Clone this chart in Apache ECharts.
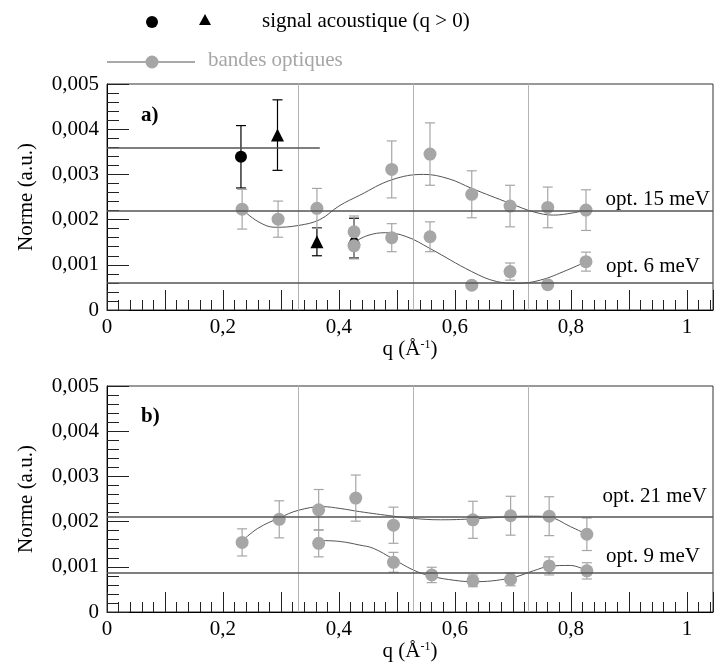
<!DOCTYPE html>
<html><head><meta charset="utf-8">
<script src="https://cdn.jsdelivr.net/npm/echarts@6/dist/echarts.min.js"></script>
<style>html,body{margin:0;padding:0;background:#fff}#c{width:717px;height:664px}</style>
</head><body><div id="c"></div>
<script>
// ---------- data ----------
// panel a) optical band 15 meV
const qA15 = [0.233, 0.295, 0.362, 0.426, 0.491, 0.557, 0.629, 0.695, 0.760, 0.826];
const vA15 = [0.00223, 0.00201, 0.00225, 0.00173, 0.00311, 0.00345, 0.00256, 0.00230, 0.00227, 0.00221];
const eA15 = [0.00044, 0.00040, 0.00044, 0.00035, 0.00063, 0.00069, 0.00052, 0.00046, 0.00045, 0.00045];
// panel a) optical band 6 meV
const qA6 = [0.426, 0.491, 0.557, 0.629, 0.695, 0.760, 0.826];
const vA6 = [0.00142, 0.00160, 0.00162, 0.00055, 0.00085, 0.00056, 0.00107];
const eA6 = [0.00029, 0.00031, 0.00033, 0.00005, 0.00019, 0.00005, 0.00021];
// panel a) acoustic signal
const qAcCirc = [0.231];
const vAcCirc = [0.00339];
const eAcCirc = [0.00069];
const qAcTri = [0.294, 0.362, 0.426];
const vAcTri = [0.00387, 0.00151, 0.00159];
const eAcTri = [0.00078, 0.00031, 0.00044];
// panel a) fit curves
const qFitA15 = [0.233, 0.26, 0.29, 0.33, 0.367, 0.40, 0.436, 0.491, 0.546, 0.59, 0.629, 0.695, 0.736, 0.77, 0.804, 0.826];
const vFitA15 = [0.00223, 0.00196, 0.00183, 0.00187, 0.0020, 0.0023, 0.00254, 0.00288, 0.0030, 0.0029, 0.00269, 0.00236, 0.00217, 0.0021, 0.00215, 0.00221];
const qFitA6 = [0.426, 0.45, 0.48, 0.517, 0.557, 0.629, 0.672, 0.707, 0.747, 0.793, 0.826];
const vFitA6 = [0.0015, 0.00165, 0.00171, 0.00162, 0.00136, 0.00085, 0.00063, 0.00059, 0.00066, 0.00088, 0.00107];
// panel a) reference levels
const levelA15 = 0.00219, levelA6 = 0.0006, levelAc = 0.00359, acEnd = 0.367;

// panel b) optical band 21 meV
const qB21 = [0.233, 0.297, 0.365, 0.429, 0.494, 0.631, 0.696, 0.7625, 0.8275];
const vB21 = [0.00154, 0.00205, 0.00226, 0.00252, 0.00192, 0.00204, 0.00213, 0.00212, 0.00172];
const eB21 = [0.00030, 0.00041, 0.00045, 0.00051, 0.00040, 0.00041, 0.00043, 0.00043, 0.00036];
// panel b) optical band 9 meV
const qB9 = [0.365, 0.494, 0.560, 0.631, 0.696, 0.7625, 0.8275];
const vB9 = [0.00152, 0.00110, 0.00082, 0.00069, 0.00072, 0.00102, 0.00091];
const eB9 = [0.00030, 0.00022, 0.00017, 0.00013, 0.00014, 0.00020, 0.00018];
// panel b) fit curves
const qFitB21 = [0.233, 0.26, 0.297, 0.33, 0.372, 0.402, 0.436, 0.494, 0.528, 0.575, 0.631, 0.696, 0.735, 0.7625, 0.799, 0.8275];
const vFitB21 = [0.00157, 0.00185, 0.00208, 0.00225, 0.00233, 0.00229, 0.00222, 0.00212, 0.00207, 0.00204, 0.00206, 0.00211, 0.00212, 0.0021, 0.00189, 0.00172];
const qFitB9 = [0.370, 0.402, 0.436, 0.459, 0.494, 0.528, 0.56, 0.60, 0.631, 0.696, 0.735, 0.7625, 0.799, 0.8275];
const vFitB9 = [0.00158, 0.00156, 0.00148, 0.00141, 0.00117, 0.00093, 0.00079, 0.0007, 0.00067, 0.00075, 0.00091, 0.00101, 0.00103, 0.00091];
const levelB21 = 0.00211, levelB9 = 0.00087;

// vertical guide lines (both panels)
const qGuides = [0.33, 0.528, 0.727];

// axis ticks / labels
const xMin = 0, xMax = 1.045, xInterval = 0.1;
const yMin = 0, yMax = 0.005, yInterval = 0.001;
const labels = { a: 'a)', b: 'b)', l15: 'opt. 15 meV', l6: 'opt. 6 meV', l21: 'opt. 21 meV', l9: 'opt. 9 meV',
  acoustic: 'signal acoustique (q > 0)', optical: 'bandes optiques', yName: 'Norme (a.u.)' };

// ---------- styling ----------
const FONT = 'Liberation Serif';
const FS = 21;
const GRAY = '#a6a6a6';
const LINE = '#555';

const chart = echarts.init(document.getElementById('c'), null, { renderer: 'canvas' });

function zip(q, v) { return q.map((x, i) => [x, v[i]]); }

function xAxis(gi) {
  return {
    type: 'value', gridIndex: gi, min: xMin, max: xMax, interval: xInterval,
    axisLine: { show: true, onZero: false, lineStyle: { color: '#000', width: 1 } },
    axisTick: { show: true, inside: true, length: 20, lineStyle: { color: '#222' } },
    minorTick: { show: true, splitNumber: 5, length: 10, lineStyle: { color: '#222' } },
    splitLine: { show: false }, minorSplitLine: { show: false },
    axisLabel: {
      margin: 7, fontFamily: FONT, fontSize: FS, color: '#000', showMaxLabel: true, hideOverlap: false,
      formatter: v => {
        const k = Math.round(v * 10);
        if (Math.abs(v * 10 - k) > 1e-6 || k % 2 !== 0 || k > 10) return '';
        return String(k / 10).replace('.', ',');
      }
    },
    name: '{a|q (Å}{s|-1}{a|)}', nameLocation: 'middle', nameGap: 23,
    nameTextStyle: { rich: {
      a: { fontFamily: FONT, fontSize: FS, color: '#000' },
      s: { fontFamily: FONT, fontSize: 12, color: '#000', padding: [0, 0, 9, 0] }
    } }
  };
}
function yAxis(gi) {
  return {
    type: 'value', gridIndex: gi, min: yMin, max: yMax, interval: yInterval,
    axisLine: { show: true, onZero: false, lineStyle: { color: '#000', width: 1 } },
    axisTick: { show: true, inside: true, length: 22, lineStyle: { color: '#222' } },
    minorTick: { show: true, splitNumber: 5, length: 12, lineStyle: { color: '#222' } },
    splitLine: { show: false }, minorSplitLine: { show: false },
    axisLabel: {
      margin: 8, fontFamily: FONT, fontSize: FS, color: '#000', showMaxLabel: true, showMinLabel: true,
      formatter: v => v === 0 ? '0' : v.toFixed(3).replace('.', ',')
    },
    name: labels.yName, nameLocation: 'middle', nameGap: 70, nameRotate: 90,
    nameTextStyle: { fontFamily: FONT, fontSize: FS, color: '#000' }
  };
}

function errBars(ai, q, v, e, color) {
  return {
    type: 'custom', xAxisIndex: ai, yAxisIndex: ai, silent: true, z: 2,
    data: q.map((x, i) => [x, v[i] - e[i], v[i] + e[i]]),
    renderItem(params, api) {
      const x = api.value(0);
      const lo = api.coord([x, api.value(1)]);
      const hi = api.coord([x, api.value(2)]);
      const w = 5;
      const st = { stroke: color, lineWidth: 1.2 };
      return { type: 'group', children: [
        { type: 'line', shape: { x1: lo[0], y1: lo[1], x2: hi[0], y2: hi[1] }, style: st },
        { type: 'line', shape: { x1: lo[0] - w, y1: lo[1], x2: lo[0] + w, y2: lo[1] }, style: st },
        { type: 'line', shape: { x1: hi[0] - w, y1: hi[1], x2: hi[0] + w, y2: hi[1] }, style: st }
      ] };
    }
  };
}
function points(ai, q, v, symbol, size, color, z) {
  return { type: 'scatter', xAxisIndex: ai, yAxisIndex: ai, symbol, symbolSize: size,
    itemStyle: { color, opacity: 1 }, data: zip(q, v), z, silent: true };
}
function curve(ai, q, v) {
  return { type: 'line', xAxisIndex: ai, yAxisIndex: ai, data: zip(q, v), smooth: 0.4,
    showSymbol: false, symbol: 'none', lineStyle: { color: LINE, width: 1 }, z: 1, silent: true };
}
function hLine(v, x0, x1, label) {
  const a = { coord: [x0, v], lineStyle: { color: LINE, width: 1.5 } };
  if (label) a.label = label;
  return [a, { coord: [x1, v] }];
}
function levelLabel(text, dist) {
  return { show: true, formatter: text, position: 'insideEndTop', distance: dist,
    fontFamily: FONT, fontSize: FS, color: '#000' };
}
function guides(ai, levels, extra) {
  const data = qGuides.map(x => [{ coord: [x, yMin], lineStyle: { color: '#b3b3b3', width: 1 } }, { coord: [x, yMax] }]);
  levels.forEach(l => data.push(hLine(l.v, xMin, xMax, levelLabel(l.t, l.d))));
  (extra || []).forEach(d => data.push(d));
  return { type: 'line', xAxisIndex: ai, yAxisIndex: ai, data: [], z: 0, silent: true,
    markLine: { symbol: 'none', silent: true, animation: false, label: { show: false },
      lineStyle: { type: 'solid' }, precision: 6, data } };
}

const option = {
  animation: false,
  backgroundColor: '#fff',
  grid: [
    { left: 107, top: 84, width: 606, height: 226, show: true, borderColor: '#333', borderWidth: 1, backgroundColor: 'transparent' },
    { left: 107, top: 386, width: 606, height: 226, show: true, borderColor: '#333', borderWidth: 1, backgroundColor: 'transparent' }
  ],
  xAxis: [xAxis(0), xAxis(1)],
  yAxis: [yAxis(0), yAxis(1)],
  series: [
    guides(0, [{ v: levelA15, t: labels.l15, d: [3, 1] }, { v: levelA6, t: labels.l6, d: [13, 6] }],
      [hLine(levelAc, xMin, acEnd)]),
    guides(1, [{ v: levelB21, t: labels.l21, d: [6, 10] }, { v: levelB9, t: labels.l9, d: [13, 6] }]),
    curve(0, qFitA15, vFitA15),
    curve(0, qFitA6, vFitA6),
    curve(1, qFitB21, vFitB21),
    curve(1, qFitB9, vFitB9),
    errBars(0, qAcCirc, vAcCirc, eAcCirc, '#000'),
    errBars(0, qAcTri, vAcTri, eAcTri, '#000'),
    points(0, qAcCirc, vAcCirc, 'circle', 12, '#000', 3),
    points(0, qAcTri, vAcTri, 'triangle', 13, '#000', 3),
    errBars(0, qA15, vA15, eA15, GRAY),
    errBars(0, qA6, vA6, eA6, GRAY),
    points(0, qA15, vA15, 'circle', 13, GRAY, 4),
    points(0, qA6, vA6, 'circle', 13, GRAY, 4),
    errBars(1, qB21, vB21, eB21, GRAY),
    errBars(1, qB9, vB9, eB9, GRAY),
    points(1, qB21, vB21, 'circle', 13, GRAY, 4),
    points(1, qB9, vB9, 'circle', 13, GRAY, 4)
  ],
  graphic: [
    { type: 'circle', shape: { cx: 152, cy: 22, r: 6 }, style: { fill: '#000' } },
    { type: 'polygon', shape: { points: [[199, 25], [211, 25], [205, 14]] }, style: { fill: '#000' } },
    { type: 'text', left: 262, top: 11, style: { text: labels.acoustic, font: FS + 'px "Liberation Serif"', fill: '#000' } },
    { type: 'line', shape: { x1: 107, y1: 62, x2: 195, y2: 62 }, style: { stroke: '#8c8c8c', lineWidth: 1.5 } },
    { type: 'circle', shape: { cx: 152, cy: 62, r: 6.5 }, style: { fill: GRAY } },
    { type: 'text', left: 208, top: 50, style: { text: labels.optical, font: FS + 'px "Liberation Serif"', fill: GRAY } },
    { type: 'text', left: 141, top: 105, style: { text: labels.a, font: 'bold ' + FS + 'px "Liberation Serif"', fill: '#000' } },
    { type: 'text', left: 141, top: 406, style: { text: labels.b, font: 'bold ' + FS + 'px "Liberation Serif"', fill: '#000' } }
  ]
};
chart.setOption(option);
</script></body></html>
